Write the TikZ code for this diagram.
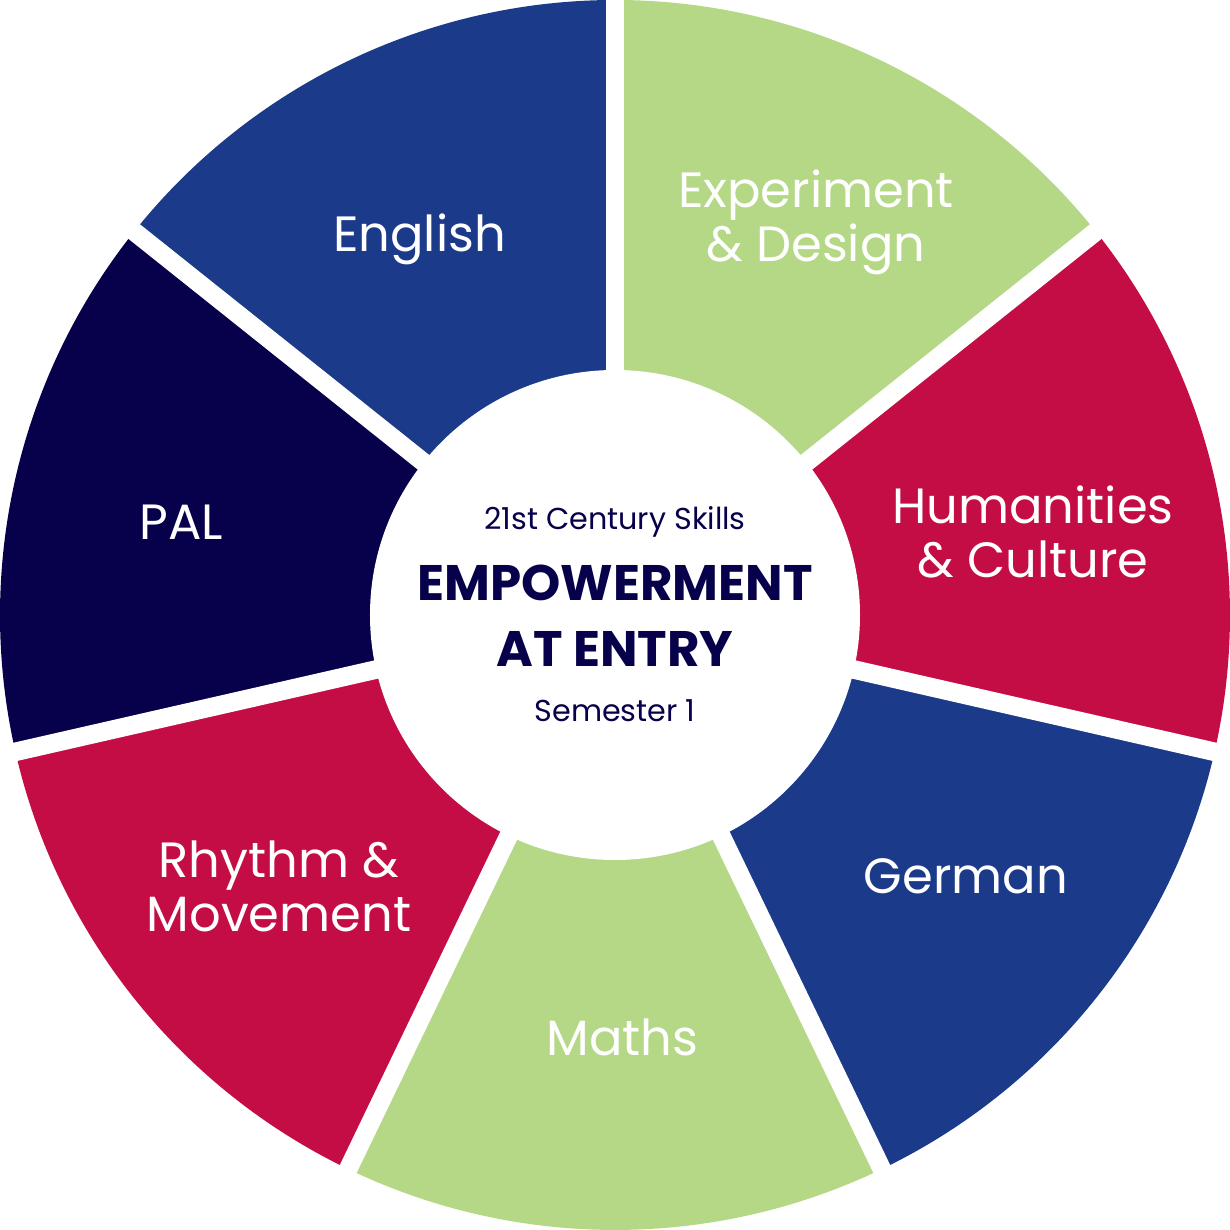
\documentclass[tikz,border=0pt]{standalone}
\usepackage{fontspec}
\setmainfont{Poppins}
\usetikzlibrary{positioning}
\definecolor{navy}{HTML}{07004A}
\definecolor{royal}{HTML}{1B3A8A}
\definecolor{lime}{HTML}{B5D886}
\definecolor{berry}{HTML}{C40D45}

\begin{document}
\begin{tikzpicture}[
  gap/.style = {
    draw = white,
    line width = 0.186cm,
  },
  hub/.style = {
    circle,
    fill = white,
    minimum size = 4.9cm,
    inner sep = 0pt,
  },
  subject/.style = {
    text = white,
    align = center,
    inner sep = 0pt,
    anchor = base,
    font = \fontsize{14.1}{15.4}\selectfont,
  },
  hubtext/.style = {
    text = navy,
    align = center,
    inner sep = 0pt,
    anchor = base,
  },
]

  \useasboundingbox (-6.15,-6.15) rectangle (6.15,6.15);
  \coordinate (c) at (0,0);

  % segments, clockwise from the top
  \fill[lime]  (c) -- (90:6.15)      arc[start angle=90,      end angle=38.571,   radius=6.15] -- cycle;
  \fill[berry] (c) -- (38.571:6.15)  arc[start angle=38.571,  end angle=-12.857,  radius=6.15] -- cycle;
  \fill[royal] (c) -- (-12.857:6.15) arc[start angle=-12.857, end angle=-64.286,  radius=6.15] -- cycle;
  \fill[lime]  (c) -- (-64.286:6.15) arc[start angle=-64.286, end angle=-115.714, radius=6.15] -- cycle;
  \fill[berry] (c) -- (-115.714:6.15) arc[start angle=-115.714, end angle=-167.143, radius=6.15] -- cycle;
  \fill[navy]  (c) -- (-167.143:6.15) arc[start angle=-167.143, end angle=-218.571, radius=6.15] -- cycle;
  \fill[royal] (c) -- (141.429:6.15) arc[start angle=141.429, end angle=90,      radius=6.15] -- cycle;

  \draw[gap] (c) -- (90:6.3);
  \draw[gap] (c) -- (38.571:6.3);
  \draw[gap] (c) -- (-12.857:6.3);
  \draw[gap] (c) -- (-64.286:6.3);
  \draw[gap] (c) -- (-115.714:6.3);
  \draw[gap] (c) -- (-167.143:6.3);
  \draw[gap] (c) -- (141.429:6.3);

  \node[hub] (hub) at (c) {};

  % base anchor sits on the last line
  \node[subject] (exp) at (2.01,3.533)   {Experiment\\\& Design};
  \node[subject] (hum) at (4.18,0.377)   {Humanities\\\& Culture};
  \node[subject] (ger) at (3.51,-2.783)  {German};
  \node[subject] (mat) at (0.075,-4.40)  {Maths};
  \node[subject] (rhy) at (-3.36,-3.167) {Rhythm \&\\Movement};
  \node[subject] (pal) at (-4.335,0.757) {PAL};
  \node[subject] (eng) at (-1.955,3.63)  {English};

  \node[hubtext,font=\fontsize{8.6}{10}\selectfont] (skills) at (0,0.857) {21st Century Skills};
  \node[hubtext,font=\fontsize{14.2}{18.8}\selectfont\bfseries] (title) at (0,-0.517) {EMPOWERMENT\\AT ENTRY};
  \node[hubtext,font=\fontsize{8.6}{10}\selectfont] (sem) at (0,-1.067) {Semester 1};

\end{tikzpicture}
\end{document}
